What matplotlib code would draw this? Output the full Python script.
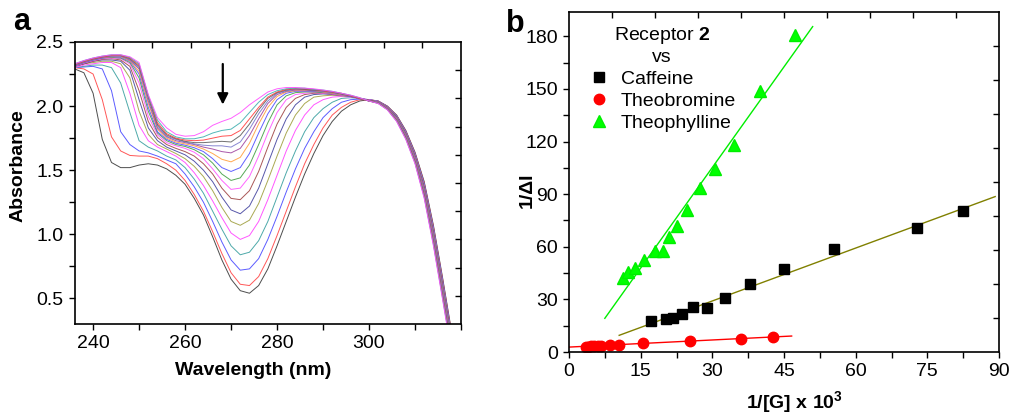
import matplotlib
matplotlib.use('Agg')
import matplotlib.pyplot as plt
from matplotlib.ticker import MultipleLocator, NullFormatter, FixedLocator

plt.rcParams['font.family'] = ['Liberation Sans', 'DejaVu Sans']
plt.rcParams['mathtext.fontset'] = 'custom'
plt.rcParams['mathtext.rm'] = 'Liberation Sans'
plt.rcParams['mathtext.bf'] = 'Liberation Sans:bold'

# ---------------- Panel a data: UV-vis titration spectra ----------------
wavelength = [236, 238, 240, 242, 244, 246, 248, 250, 252, 254,
              256, 258, 260, 262, 264, 266, 268, 270,
              272, 274, 276, 278, 280, 282, 284,
              286, 288, 290, 292, 294, 296, 298, 300,
              302, 304, 306, 308, 310, 312, 314, 316, 318]

abs_01 = [2.29, 2.26, 2.10, 1.74, 1.56, 1.52, 1.52, 1.54, 1.55, 1.54,
          1.51, 1.46, 1.39, 1.28, 1.15, 0.98, 0.80, 0.65,
          0.56, 0.54, 0.60, 0.73, 0.91, 1.10, 1.29,
          1.47, 1.63, 1.77, 1.88, 1.96, 2.01, 2.04, 2.05,
          2.04, 2.00, 1.93, 1.81, 1.64, 1.41, 1.07, 0.66, 0.23]
abs_02 = [2.30, 2.29, 2.25, 2.05, 1.76, 1.65, 1.615, 1.61, 1.61, 1.59,
          1.55, 1.50, 1.42, 1.31, 1.18, 1.02, 0.85, 0.70,
          0.61, 0.60, 0.67, 0.81, 0.99, 1.18, 1.37,
          1.55, 1.70, 1.83, 1.93, 1.99, 2.03, 2.05, 2.05,
          2.039, 1.998, 1.927, 1.806, 1.635, 1.402, 1.06, 0.65, 0.22]
abs_03 = [2.30, 2.305, 2.31, 2.29, 2.12, 1.80, 1.70, 1.65, 1.635, 1.61,
          1.58, 1.55, 1.47, 1.37, 1.25, 1.10, 0.94, 0.80,
          0.72, 0.73, 0.81, 0.96, 1.14, 1.33, 1.51,
          1.67, 1.80, 1.91, 1.98, 2.03, 2.05, 2.055, 2.05,
          2.038, 1.996, 1.924, 1.802, 1.629, 1.394, 1.051, 0.64, 0.21]
abs_04 = [2.30, 2.31, 2.32, 2.32, 2.30, 2.18, 1.95, 1.73, 1.68, 1.65,
          1.61, 1.58, 1.52, 1.43, 1.32, 1.18, 1.04, 0.91,
          0.84, 0.86, 0.95, 1.10, 1.29, 1.48, 1.65,
          1.80, 1.91, 1.98, 2.03, 2.06, 2.065, 2.06, 2.05,
          2.036, 1.995, 1.921, 1.797, 1.624, 1.387, 1.041, 0.629, 0.199]
abs_05 = [2.30, 2.32, 2.33, 2.34, 2.34, 2.30, 2.10, 1.85, 1.73, 1.68,
          1.645, 1.61, 1.56, 1.48, 1.38, 1.26, 1.13, 1.01,
          0.96, 0.99, 1.10, 1.27, 1.46, 1.65, 1.81,
          1.93, 2.01, 2.05, 2.07, 2.075, 2.07, 2.06, 2.05,
          2.035, 1.993, 1.918, 1.793, 1.618, 1.379, 1.032, 0.619, 0.189]
abs_06 = [2.31, 2.33, 2.34, 2.35, 2.35, 2.33, 2.22, 1.96, 1.78, 1.70,
          1.665, 1.63, 1.59, 1.53, 1.45, 1.34, 1.21, 1.10,
          1.07, 1.11, 1.24, 1.42, 1.61, 1.79, 1.93,
          2.02, 2.07, 2.08, 2.085, 2.08, 2.075, 2.06, 2.045,
          2.034, 1.991, 1.916, 1.79, 1.614, 1.372, 1.024, 0.611, 0.181]
abs_07 = [2.31, 2.33, 2.35, 2.36, 2.36, 2.35, 2.28, 2.05, 1.83, 1.73,
          1.68, 1.65, 1.62, 1.57, 1.50, 1.41, 1.29, 1.19,
          1.16, 1.22, 1.36, 1.55, 1.74, 1.90, 2.01,
          2.07, 2.09, 2.095, 2.09, 2.085, 2.075, 2.06, 2.045,
          2.033, 1.99, 1.913, 1.786, 1.609, 1.365, 1.014, 0.60, 0.17]
abs_08 = [2.31, 2.33, 2.35, 2.365, 2.37, 2.36, 2.31, 2.12, 1.88, 1.755,
          1.70, 1.67, 1.645, 1.61, 1.55, 1.47, 1.36, 1.28,
          1.27, 1.34, 1.49, 1.68, 1.86, 1.99, 2.06,
          2.09, 2.10, 2.10, 2.095, 2.085, 2.075, 2.06, 2.045,
          2.032, 1.988, 1.91, 1.781, 1.603, 1.357, 1.004, 0.59, 0.16]
abs_09 = [2.31, 2.335, 2.355, 2.37, 2.375, 2.37, 2.33, 2.18, 1.92, 1.775,
          1.715, 1.69, 1.67, 1.64, 1.59, 1.51, 1.42, 1.35,
          1.36, 1.45, 1.61, 1.79, 1.95, 2.05, 2.09,
          2.10, 2.105, 2.10, 2.095, 2.085, 2.075, 2.06, 2.04,
          2.031, 1.986, 1.907, 1.777, 1.598, 1.349, 0.995, 0.58, 0.15]
abs_10 = [2.315, 2.34, 2.36, 2.375, 2.38, 2.375, 2.34, 2.22, 1.96, 1.79,
          1.73, 1.70, 1.685, 1.66, 1.62, 1.555, 1.47, 1.42,
          1.44, 1.54, 1.70, 1.87, 2.01, 2.08, 2.105,
          2.11, 2.11, 2.105, 2.10, 2.09, 2.075, 2.06, 2.04,
          2.029, 1.984, 1.904, 1.773, 1.592, 1.341, 0.985, 0.57, 0.14]
abs_11 = [2.315, 2.34, 2.36, 2.375, 2.385, 2.38, 2.35, 2.25, 1.99, 1.80,
          1.74, 1.71, 1.695, 1.675, 1.645, 1.59, 1.52, 1.49,
          1.52, 1.63, 1.79, 1.94, 2.05, 2.10, 2.115,
          2.115, 2.115, 2.11, 2.10, 2.09, 2.075, 2.06, 2.04,
          2.028, 1.982, 1.901, 1.769, 1.587, 1.333, 0.976, 0.56, 0.13]
abs_12 = [2.32, 2.345, 2.365, 2.38, 2.385, 2.385, 2.355, 2.27, 2.02, 1.82,
          1.75, 1.72, 1.705, 1.69, 1.665, 1.63, 1.585, 1.565,
          1.60, 1.71, 1.86, 1.99, 2.075, 2.11, 2.12,
          2.12, 2.12, 2.11, 2.10, 2.09, 2.08, 2.06, 2.04,
          2.027, 1.981, 1.898, 1.765, 1.582, 1.326, 0.966, 0.55, 0.12]
abs_13 = [2.32, 2.345, 2.365, 2.38, 2.39, 2.39, 2.36, 2.29, 2.04, 1.83,
          1.76, 1.73, 1.715, 1.70, 1.68, 1.665, 1.645, 1.635,
          1.67, 1.77, 1.90, 2.02, 2.09, 2.115, 2.125,
          2.125, 2.12, 2.115, 2.105, 2.095, 2.08, 2.06, 2.04,
          2.026, 1.979, 1.895, 1.76, 1.576, 1.318, 0.956, 0.539, 0.109]
abs_14 = [2.32, 2.35, 2.37, 2.385, 2.39, 2.39, 2.365, 2.30, 2.06, 1.845,
          1.765, 1.74, 1.72, 1.705, 1.695, 1.69, 1.69, 1.68,
          1.72, 1.82, 1.94, 2.04, 2.10, 2.12, 2.13,
          2.13, 2.125, 2.115, 2.105, 2.095, 2.08, 2.06, 2.04,
          2.025, 1.977, 1.892, 1.757, 1.572, 1.311, 0.948, 0.531, 0.101]
abs_15 = [2.325, 2.35, 2.37, 2.385, 2.395, 2.395, 2.37, 2.31, 2.07, 1.855,
          1.775, 1.745, 1.725, 1.715, 1.715, 1.72, 1.725, 1.72,
          1.77, 1.86, 1.97, 2.06, 2.105, 2.125, 2.135,
          2.13, 2.125, 2.12, 2.11, 2.095, 2.08, 2.06, 2.04,
          2.024, 1.975, 1.889, 1.753, 1.566, 1.303, 0.939, 0.521, 0.091]
abs_16 = [2.325, 2.35, 2.37, 2.385, 2.395, 2.395, 2.375, 2.32, 2.08, 1.87,
          1.785, 1.75, 1.735, 1.73, 1.735, 1.75, 1.765, 1.77,
          1.81, 1.90, 1.99, 2.07, 2.11, 2.13, 2.135,
          2.135, 2.13, 2.12, 2.11, 2.10, 2.08, 2.06, 2.04,
          2.022, 1.974, 1.886, 1.748, 1.561, 1.296, 0.929, 0.51, 0.08]
abs_17 = [2.33, 2.355, 2.375, 2.39, 2.40, 2.40, 2.38, 2.33, 2.08, 1.89,
          1.80, 1.76, 1.745, 1.745, 1.76, 1.79, 1.81, 1.82,
          1.87, 1.95, 2.03, 2.09, 2.12, 2.135, 2.14,
          2.14, 2.13, 2.125, 2.115, 2.10, 2.085, 2.065, 2.04,
          2.021, 1.972, 1.883, 1.744, 1.555, 1.288, 0.92, 0.50, 0.07]
abs_18 = [2.33, 2.355, 2.375, 2.39, 2.40, 2.40, 2.385, 2.34, 2.09, 1.91,
          1.83, 1.78, 1.765, 1.77, 1.80, 1.85, 1.88, 1.905,
          1.95, 2.01, 2.06, 2.11, 2.135, 2.145, 2.145,
          2.14, 2.135, 2.125, 2.115, 2.10, 2.085, 2.065, 2.04,
          2.02, 1.97, 1.88, 1.74, 1.55, 1.28, 0.91, 0.49, 0.06]

spectra = [abs_01, abs_02, abs_03, abs_04, abs_05, abs_06, abs_07, abs_08, abs_09,
           abs_10, abs_11, abs_12, abs_13, abs_14, abs_15, abs_16, abs_17, abs_18]
spectrum_colors = ['#3a3a3a', '#ff4545', '#4a4aff', '#3aa0a0', '#ff45ff', '#a0a040',
                   '#4545a0', '#a04545', '#ff55ff', '#45a045', '#5050ff', '#ffa040',
                   '#a045a0', '#7a7acc', '#606060', '#ff4040', '#40b0b0', '#ff50ff']
wavelength_ticks = [240, 260, 280, 300]

# ---------------- Panel b data: double-reciprocal plots ----------------
caffeine_x = [17.1, 20.2, 21.8, 23.7, 26.0, 28.9, 32.7, 37.9, 44.9, 55.5, 72.9, 82.5]
caffeine_y = [17.7, 18.6, 19.2, 21.7, 25.5, 24.9, 30.6, 38.6, 47.5, 58.6, 70.5, 80.4]
caffeine_fit_x = [10.5, 89.2]
caffeine_fit_y = [9.5, 88.6]

theobromine_x = [3.5, 4.0, 4.6, 5.2, 6.1, 6.6, 8.6, 10.5, 15.4, 25.3, 36.0, 42.7]
theobromine_y = [2.6, 2.9, 3.2, 3.4, 3.6, 3.7, 4.0, 4.1, 4.9, 6.2, 7.2, 8.5]
theobromine_fit_x = [0.0, 46.6]
theobromine_fit_y = [2.8, 9.1]

theophylline_x = [11.2, 12.3, 13.8, 15.6, 18.1, 19.6, 21.0, 22.7, 24.8, 27.4, 30.6, 34.6, 40.0, 47.4]
theophylline_y = [42.0, 45.4, 47.7, 52.5, 57.6, 57.6, 65.8, 71.9, 81.0, 93.4, 104.2, 117.9, 148.7, 180.6]
theophylline_fit_x = [7.5, 51.0]
theophylline_fit_y = [19.2, 185.5]

fig = plt.figure(figsize=(10.11, 4.15), dpi=100)
W, H = 1011, 415


def frac_rect(x0, y0, x1, y1):
    return [x0 / W, 1 - y1 / H, (x1 - x0) / W, (y1 - y0) / H]


def add_overlay(rect):
    ov = fig.add_axes(rect, facecolor='none')
    ov.set_xlim(0, 1)
    ov.set_ylim(0, 1)
    ov.xaxis.tick_top()
    ov.yaxis.tick_right()
    ov.set_xticks([0.1, 0.2, 0.3, 0.4, 0.5, 0.6, 0.7, 0.8, 0.9])
    ov.set_yticks([0.1, 0.2, 0.3, 0.4, 0.5, 0.6, 0.7, 0.8, 0.9])
    ov.xaxis.set_major_formatter(NullFormatter())
    ov.yaxis.set_major_formatter(NullFormatter())
    ov.tick_params(direction='in', length=4, width=1.0)
    for s in ov.spines.values():
        s.set_visible(False)
    return ov


def style_main(ax):
    for side in ['left', 'bottom', 'top', 'right']:
        ax.spines[side].set_linewidth(1.2)
    ax.tick_params(which='both', top=False, right=False, direction='out',
                   width=1.0, labelsize=14, pad=4)
    ax.tick_params(which='major', length=4)
    ax.tick_params(which='minor', length=4)


# ---------------- Panel a ----------------
rect_a = frac_rect(74.7, 42, 461, 324)
ax1 = fig.add_axes(rect_a)
for ys, c in zip(spectra, spectrum_colors):
    ax1.plot(wavelength, ys, color=c, lw=0.7, alpha=0.9)
ax1.set_xlim(236, 320)
ax1.set_ylim(0.3, 2.5)
ax1.xaxis.set_major_locator(FixedLocator(wavelength_ticks))
ax1.xaxis.set_minor_locator(MultipleLocator(10))
ax1.yaxis.set_major_locator(MultipleLocator(0.5))
ax1.yaxis.set_minor_locator(MultipleLocator(0.25))
ax1.yaxis.set_major_formatter(matplotlib.ticker.FormatStrFormatter('%.1f'))
style_main(ax1)
ax1.annotate('', xy=(268.2, 1.99), xytext=(268.2, 2.35),
             arrowprops=dict(arrowstyle='-|>', color='black', lw=1.6, mutation_scale=16))
add_overlay(rect_a)
fig.text(253 / W, 1 - 370 / H, 'Wavelength (nm)', ha='center', va='center',
         fontsize=14, fontweight='bold')
fig.text(18 / W, 1 - 166 / H, 'Absorbance', ha='center', va='center',
         fontsize=14, fontweight='bold', rotation=90)
fig.text(22 / W, 1 - 22 / H, 'a', ha='center', va='center', fontsize=22, fontweight='bold')

# ---------------- Panel b ----------------
rect_b = frac_rect(569, 11.7, 999, 352)
ax2 = fig.add_axes(rect_b)
ax2.plot(caffeine_fit_x, caffeine_fit_y, color='#808000', lw=1.0)
ax2.plot(theobromine_fit_x, theobromine_fit_y, color='#ff0000', lw=1.0)
ax2.plot(theophylline_fit_x, theophylline_fit_y, color='#00ee00', lw=1.0)
ax2.plot(caffeine_x, caffeine_y, 's', color='black', ms=7, mec='black', label='Caffeine')
ax2.plot(theobromine_x, theobromine_y, 'o', color='#ff0000', ms=7.5, mec='#ff0000', label='Theobromine')
ax2.plot(theophylline_x, theophylline_y, '^', color='#00ff00', ms=8, mec='#00ee00', label='Theophylline')
ax2.set_xlim(0, 90)
ax2.set_ylim(0, 194)
ax2.xaxis.set_major_locator(MultipleLocator(15))
ax2.xaxis.set_minor_locator(MultipleLocator(7.5))
ax2.yaxis.set_major_locator(MultipleLocator(30))
ax2.yaxis.set_minor_locator(MultipleLocator(15))
style_main(ax2)
leg = ax2.legend(loc='upper left', bbox_to_anchor=(0.012, 1.0), frameon=False,
                 title='Receptor $\\mathbf{2}$\nvs', fontsize=14, title_fontsize=14,
                 handletextpad=0.5, labelspacing=0.22, borderaxespad=0.3,
                 handlelength=1.2)
leg.get_title().set_multialignment('center')
add_overlay(rect_b)
fig.text(795 / W, 1 - 403 / H, '1/[G] x 10$^{\\mathbf{3}}$', ha='center', va='center',
         fontsize=14, fontweight='bold')
fig.text(527 / W, 1 - 190 / H, '1/\u0394I', ha='center', va='center',
         fontsize=14, fontweight='bold', rotation=90)
fig.text(515 / W, 1 - 24 / H, 'b', ha='center', va='center', fontsize=22, fontweight='bold')

fig.savefig('out.png', dpi=100)
